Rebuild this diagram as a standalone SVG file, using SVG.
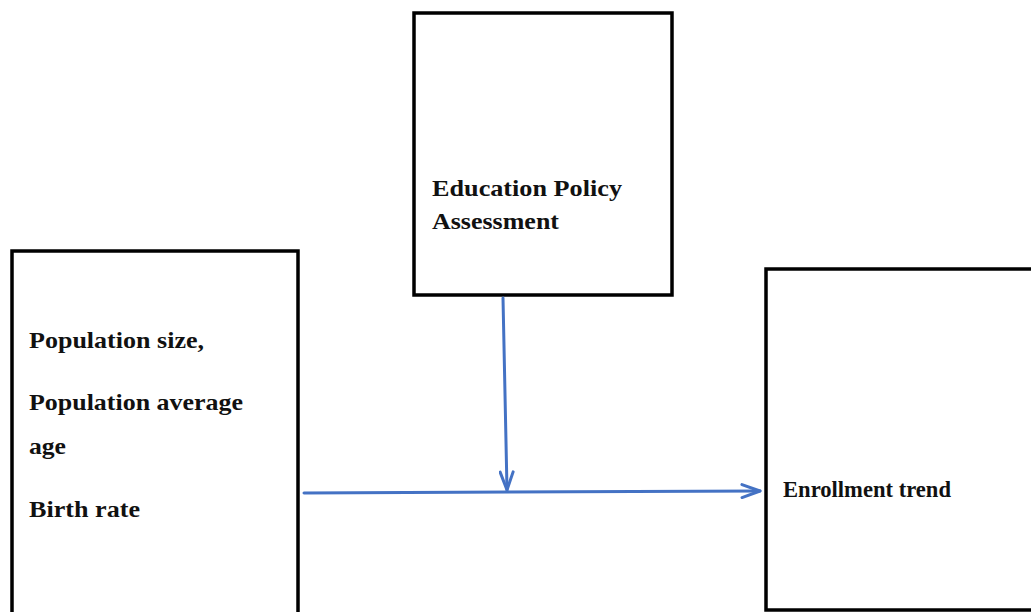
<svg xmlns="http://www.w3.org/2000/svg" width="1031" height="612" viewBox="0 0 1031 612">
  <style>
    .box { fill: #ffffff; stroke: #000000; stroke-width: 3.5; }
    .label { font-family: "Liberation Serif", "Times New Roman", serif; font-weight: bold; font-size: 23px; fill: #111111; }
    .link { fill: none; stroke: #4472C4; stroke-width: 3; stroke-linecap: round; }
  </style>
  <defs>
    <marker id="open-arrow" viewBox="0 0 22 16" refX="20" refY="8" markerWidth="22" markerHeight="16" markerUnits="userSpaceOnUse" orient="auto">
      <path d="M2,1.5 L20,8 L2,14.5" fill="none" stroke="#4472C4" stroke-width="3" stroke-linecap="round" stroke-linejoin="round"/>
    </marker>
  </defs>
  <rect width="1031" height="612" fill="#ffffff"/>

  <g id="policy">
    <rect class="box" x="414" y="13" width="258" height="282"/>
    <text class="label" x="432" y="196" textLength="190" lengthAdjust="spacingAndGlyphs">Education Policy</text>
    <text class="label" x="432" y="229" textLength="127" lengthAdjust="spacingAndGlyphs">Assessment</text>
  </g>

  <g id="population">
    <rect class="box" x="12" y="251" width="286" height="380"/>
    <text class="label" x="29" y="348" textLength="175" lengthAdjust="spacingAndGlyphs">Population size,</text>
    <text class="label" x="29" y="410" textLength="214" lengthAdjust="spacingAndGlyphs">Population average</text>
    <text class="label" x="29" y="454" textLength="37" lengthAdjust="spacingAndGlyphs">age</text>
    <text class="label" x="29" y="517" textLength="111" lengthAdjust="spacingAndGlyphs">Birth rate</text>
  </g>

  <g id="enrollment">
    <rect class="box" x="766" y="269" width="300" height="341"/>
    <text class="label" x="783" y="497" textLength="168" lengthAdjust="spacingAndGlyphs">Enrollment trend</text>
  </g>

  <g id="connectors">
    <path class="link" d="M503,298 L507,490" marker-end="url(#open-arrow)"/>
    <path class="link" d="M304,493 L760,491" marker-end="url(#open-arrow)"/>
  </g>
</svg>
